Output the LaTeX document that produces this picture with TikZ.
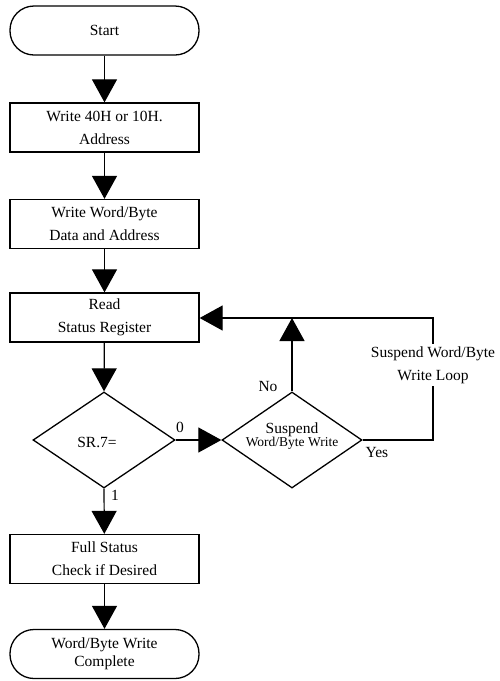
\documentclass[tikz,border=0pt]{standalone}
\usepackage{fontspec}
\setmainfont{Liberation Serif}
\usetikzlibrary{arrows.meta,shapes.geometric}
\begin{document}
\begin{tikzpicture}[x=1pt,y=-1pt,
  txt/.style={font=\fontsize{15.5}{23}\selectfont},
  box/.style={draw, line width=1.3pt, minimum width=189pt, minimum height=49pt, inner sep=0pt, align=center, txt},
  term/.style={box, rounded corners=24pt},
  dia/.style={draw, diamond, line width=1.3pt, minimum width=142pt, minimum height=96pt, inner sep=0pt, align=center},
  flow/.style={line width=1.2pt, -{Triangle[length=23pt,width=25pt]}},
  lbl/.style={txt, inner sep=0pt}
]
\useasboundingbox (0,0) rectangle (500,681);

\node[term] (start) at (104.5,30.5) {Start};
\node[box] (b1) at (104.5,127.5) {Write 40H or 10H.\\Address};
\node[box] (b2) at (104.5,224) {Write Word/Byte\\Data and Address};
\node[box] (b3) at (104.5,317.5) {Read\\Status Register};
\node[dia, minimum width=142pt] (d1) at (104,440) {};
\node[lbl] at (97,442) {SR.7=};
\node[dia, minimum width=140pt] (d2) at (292,440) {};
\node[align=center, inner sep=0pt] at (292,436) {{\fontsize{15.5}{18}\selectfont Suspend}\\{\fontsize{13.5}{18}\selectfont Word/Byte Write}};
\node[box] (b4) at (104.5,559) {Full Status\\Check if Desired};
\node[term, font=\fontsize{15.5}{18}\selectfont] (end) at (104.5,654) {Word/Byte Write\\Complete};

\coordinate (c1) at (433,440);
\coordinate (c2) at (433,318);

\draw[flow] (start) -- (b1);
\draw[flow] (b1) -- (b2);
\draw[flow] (b2) -- (b3);
\draw[flow] (b3) -- (d1.north);
\draw[flow] (d1.east) -- (d2.west);
\draw[flow] (d1.south) -- (b4);
\draw[flow] (b4) -- (end);
\draw[flow] (d2.north) -- (d2.north |- c2);
\draw[flow] (d2.east) -- (c1) -- (c2) -- (b3.east |- c2);

\node[lbl, fill=white, align=center, inner sep=2pt] at (433,365) {Suspend Word/Byte\\Write Loop};
\node[lbl] at (268,386) {No};
\node[lbl] at (180,427) {0};
\node[lbl] at (377,452) {Yes};
\node[lbl] at (115,495) {1};
\end{tikzpicture}
\end{document}
